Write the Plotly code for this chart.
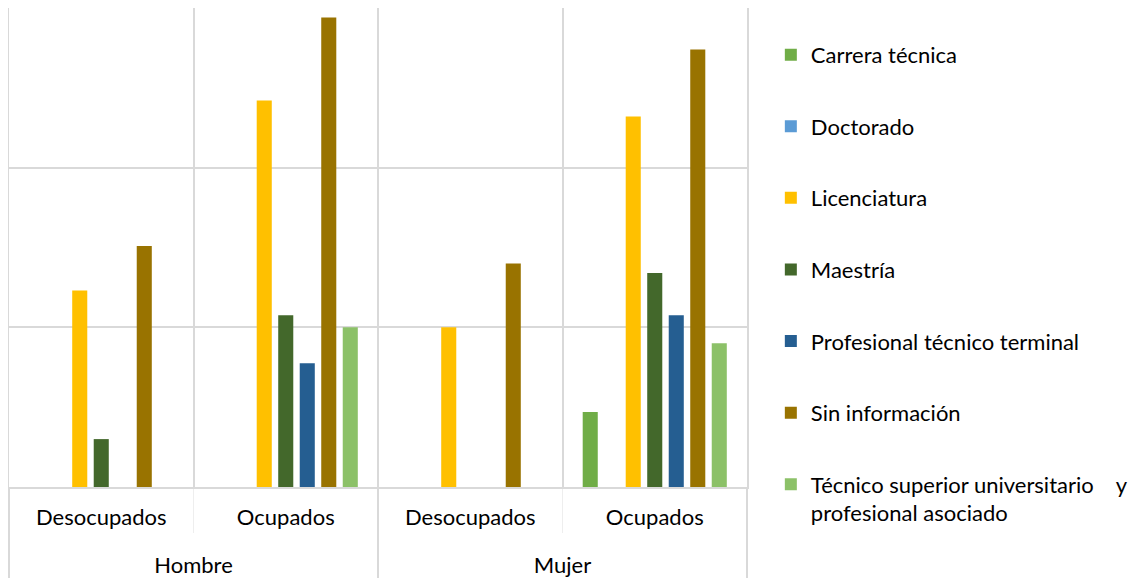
import plotly.graph_objects as go

outer = ["Hombre", "Hombre", "Mujer", "Mujer"]
inner = ["Desocupados", "Ocupados", "Desocupados", "Ocupados"]

series_names = [
    "Carrera técnica",
    "Doctorado",
    "Licenciatura",
    "Maestría",
    "Profesional técnico terminal",
    "Sin información",
    "Técnico superior universitario\u00a0\u00a0\u00a0\u00a0y<br>profesional asociado",
]
carrera_tecnica = [None, None, None, 4.7]
doctorado = [None, None, None, None]
licenciatura = [12.3, 24.2, 10.0, 23.2]
maestria = [3.0, 10.75, None, 13.4]
profesional_tecnico = [None, 7.75, None, 10.75]
sin_informacion = [15.1, 29.4, 14.0, 27.4]
tecnico_superior = [None, 10.0, None, 9.0]

series_values = [carrera_tecnica, doctorado, licenciatura, maestria,
                 profesional_tecnico, sin_informacion, tecnico_superior]
colors = ["#70AD47", "#5B9BD5", "#FFC000", "#43682B", "#255E91", "#997300", "#8CC168"]

FONT = "Lato, 'Open Sans', sans-serif"

# inner labels get an empty second line so the outer level sits lower, as in the reference
inner_labels = [lab + "<br>\u00a0" for lab in inner]

fig = go.Figure()
for i, (name, vals, col) in enumerate(zip(series_names, series_values, colors)):
    fig.add_trace(go.Bar(
        x=[outer, inner_labels], y=vals, name=name,
        marker=dict(color=col, line=dict(width=0)),
        legendgroup=f"g{i}",
    ))

grid = "#d9d9d9"
fig.update_layout(
    width=1129, height=570,
    margin=dict(l=1, r=390, t=0, b=91, autoexpand=False),
    paper_bgcolor="white", plot_bgcolor="white",
    barmode="group", bargap=0.184, bargroupgap=0.30,
    font=dict(family=FONT, size=22, color="#000000"),
    legend=dict(
        x=1.0323, y=0.946, xanchor="left", yanchor="top",
        font=dict(family=FONT, size=22, color="#000000"),
        tracegroupgap=40, itemwidth=30, valign="top",
        bgcolor="rgba(0,0,0,0)", maxheight=2000,
    ),
    showlegend=True,
)
fig.update_xaxes(
    type="multicategory",
    tickson="boundaries", showgrid=True, gridcolor=grid, gridwidth=2,
    showline=True, linecolor=grid, linewidth=2, mirror=True,
    showdividers=True, dividercolor=grid, dividerwidth=2,
    ticks="outside", ticklen=44, tickcolor="#eeeeee", tickwidth=1,
    ticklabelstandoff=10,
    tickfont=dict(family=FONT, size=22, color="#000000"),
)
fig.update_yaxes(
    range=[0, 30], dtick=10, showticklabels=False,
    showgrid=True, gridcolor=grid, gridwidth=2,
    showline=True, linecolor=grid, linewidth=2, mirror=True,
    zeroline=False, ticks="",
)

fig.write_html("out.html")
